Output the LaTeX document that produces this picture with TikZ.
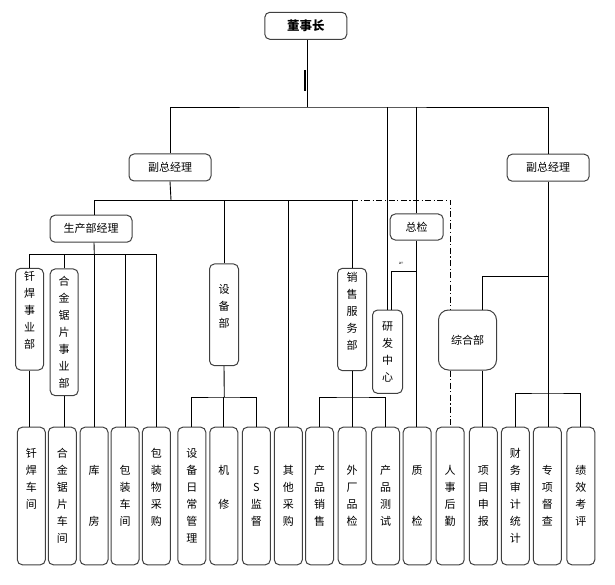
\documentclass[tikz,border=0pt]{standalone}
\usepackage{fontspec}
\setmainfont{Noto Sans CJK SC}
\usetikzlibrary{positioning}

\newcommand{\e}{\vphantom{字}}

\begin{document}
\begin{tikzpicture}[x=1pt, y=-1pt, line width=0.9pt,
    box/.style={draw=black!75, line width=1pt, rounded corners=5pt, fill=white,
      inner sep=0pt, align=center, font=\fontsize{11}{17}\selectfont},
    wide/.style={box, minimum width=82pt, minimum height=27pt},
    tall/.style={box, minimum width=28pt},
    leaf/.style={box, minimum width=28pt, minimum height=137.6pt, anchor=north},
    dashdot/.style={dash pattern=on 6pt off 2.5pt on 1.2pt off 2.5pt}]
      \useasboundingbox (0,0) rectangle (615,585);
      %\draw[help lines] (0,0) grid (615,585);

      \node[wide, font=\fontsize{12.5}{15}\selectfont\bfseries] (chair) at (305.8,25.8) {董事长};
      \node[wide] (vpl) at (170,167.5) {副总经理};
      \node[wide] (vpr) at (548.2,167.7) {副总经理};
      \node[wide] (prod) at (91,228.7) {生产部经理};
      \node[box, minimum width=53pt, minimum height=26pt] (qc) at (416.7,227) {总检};
      \node[box, minimum width=58pt, minimum height=60pt, rounded corners=10pt] (admin) at (467.5,340) {综合部};

      \node[tall, minimum height=101.7pt] (weld) at (29.5,319.2) {钎\\焊\\事\\业\\部\\\e};
      \node[tall, minimum height=126.7pt] (saw) at (64.2,332.3) {合\\金\\锯\\片\\事\\业\\部};
      \node[tall, minimum height=101.7pt, minimum width=29pt] (equip) at (224,314.8) {设\\备\\部\\\e};
      \node[tall, minimum height=102.4pt, minimum width=29pt] (sales) at (352,319.5) {销\\售\\服\\务\\部\\\e};
      \node[tall, minimum height=83.3pt, minimum width=30pt] (rnd) at (387.5,351.7) {研\\发\\中\\心};

      \node[leaf] (b1) at (31.3,426.7) {钎\\焊\\车\\间\\\e\\\e};
      \node[leaf] (b2) at (62.3,426.7) {合\\金\\锯\\片\\车\\间};
      \node[leaf] (b3) at (94,426.7) {\e\\库\\\e\\\e\\房\\\e};
      \node[leaf] (b4) at (125,426.7) {\e\\包\\装\\车\\间\\\e};
      \node[leaf] (b5) at (156.3,426.7) {包\\装\\物\\采\\购\\\e};
      \node[leaf] (b6) at (191.8,426.7) {设\\备\\日\\常\\管\\理};
      \node[leaf] (b7) at (223.8,426.7) {\e\\机\\\e\\修\\\e\\\e};
      \node[leaf] (b8) at (256.3,426.7) {\e\\5\\S\\监\\督\\\e};
      \node[leaf] (b9) at (288.3,426.7) {\e\\其\\他\\采\\购\\\e};
      \node[leaf] (b10) at (319.5,426.7) {\e\\产\\品\\销\\售\\\e};
      \node[leaf] (b11) at (352.2,426.7) {\e\\外\\厂\\品\\检\\\e};
      \node[leaf] (b12) at (385.5,426.7) {\e\\产\\品\\测\\试\\\e};
      \node[leaf] (b13) at (417.2,426.7) {\e\\质\\\e\\\e\\检\\\e};
      \node[leaf] (b14) at (450.2,426.7) {\e\\人\\事\\后\\勤\\\e};
      \node[leaf] (b15) at (483.3,426.7) {\e\\项\\目\\申\\报\\\e};
      \node[leaf] (b16) at (515.3,426.7) {财\\务\\审\\计\\统\\计};
      \node[leaf] (b17) at (547.3,426.7) {\e\\专\\项\\督\\查\\\e};
      \node[leaf] (b18) at (580.8,426.7) {\e\\绩\\效\\考\\评\\\e};

      \coordinate (top) at (307.3,107);
      \coordinate (mid) at (171,200);
      \coordinate (pbus) at (94.3,254);
      \coordinate (ebus) at (224.3,397);
      \coordinate (sbus) at (353.3,397);
      \coordinate (rbus) at (547.3,393);
      \coordinate (abus) at (482.3,276);
      \coordinate (rlink) at (391.7,271);
      \coordinate (dcorner) at (450.5,200);

      % chairman
      \draw (chair.south -| top) -- (top);
      \draw[line width=2pt] (304.5,70) -- (304.5,91);
      \draw (vpl.north) |- (top) -| (vpr.north);
      \draw (rnd.north) -- (rnd.north |- top);
      \draw (qc.north) -- (qc.north |- top);

      % left deputy
      \draw (vpl.south) -- (mid);
      \draw ([xshift=3pt]prod.north) |- (sales.north |- mid) -- (sales.north);
      \draw (equip.north) -- (equip.north |- mid);
      \draw (b9.north) -- (b9.north |- mid);

      \draw ([xshift=3pt]prod.south) -- (pbus);
      \draw (weld.north) |- (b5.north |- pbus) -- (b5.north);
      \draw (saw.north) -- (saw.north |- pbus);
      \draw (b3.north) -- (b3.north |- pbus);
      \draw (b4.north) -- (b4.north |- pbus);
      \draw (weld.south) -- (weld.south |- b1.north);
      \draw (saw.south) -- (saw.south |- b2.north);

      \draw (equip.south) -- (ebus);
      \draw (b6.north) |- (ebus) -| (b8.north);
      \draw (b7.north) -- (b7.north |- ebus);

      \draw (sales.south) -- (sales.south |- sbus);
      \draw (b10.north) |- (sbus) -| (b12.north);
      \draw (b11.north) -- (b11.north |- sbus);

      % quality check
      \draw (qc.south) -- (qc.south |- b13.north);
      \draw (qc.south |- rlink) -- (rlink) -- (rlink |- rnd.north);
      \node[font=\fontsize{4}{4}\selectfont] (tag) at (401,263) {a=};

      \draw[dashdot] (sales.north |- mid) -- (dcorner) -- (dcorner |- admin.north);
      \draw[dashdot] (dcorner |- admin.south) -- (dcorner |- b14.north);

      % right deputy
      \draw (vpr.south) -- (vpr.south |- b17.north);
      \draw (b16.north) |- (rbus) -| (b18.north);
      \draw (vpr.south |- abus) -| (abus |- admin.north);
      \draw (abus |- admin.south) -- (abus |- b15.north);
\end{tikzpicture}
\end{document}
